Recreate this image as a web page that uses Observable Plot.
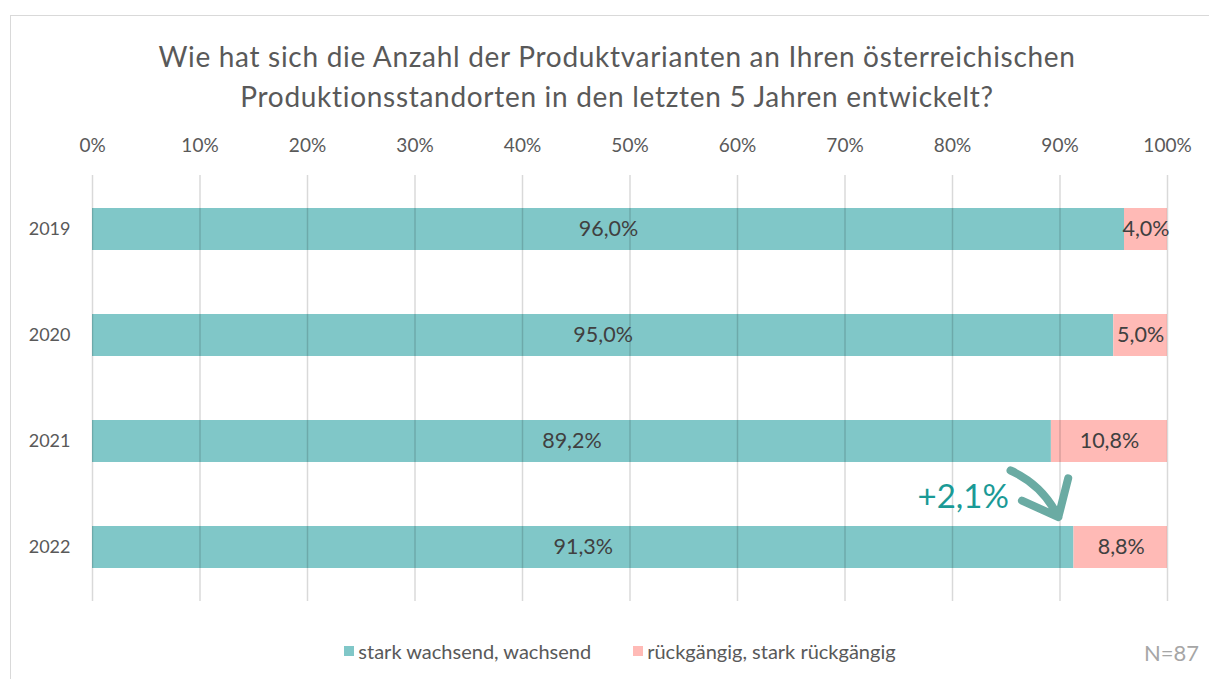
<!DOCTYPE html>
<html>
<head>
<meta charset="utf-8">
<script src="https://cdn.jsdelivr.net/npm/d3@7"></script>
<script src="https://cdn.jsdelivr.net/npm/@observablehq/plot@0.6"></script>
<style>
  html, body { margin: 0; padding: 0; background: #fff; }
  body { font-family: Lato, "Open Sans", sans-serif; }
  #wrap { position: relative; width: 1209px; height: 679px; overflow: hidden; }
  #frame { position: absolute; left: 10px; top: 15px; width: 1210px; height: 700px;
           border: 1.5px solid #d9d9d9; box-sizing: border-box; }
  #title { position: absolute; left: 0; top: 36px; width: 1234px; text-align: center;
           font-size: 28px; letter-spacing: 0.7px; line-height: 40px; color: #595959; }
  #chart { position: absolute; left: 0; top: 115px; }
  #legend { position: absolute; left: 0; top: 636px; width: 1240px; text-align: center;
            font-size: 20px; color: #595959; white-space: nowrap; }
  #legend span.item { display: inline-flex; align-items: center; margin: 0 21px; }
  #legend span.sw { display: inline-block; width: 10px; height: 10px; margin-right: 4px; }
  #n { position: absolute; left: 1144px; top: 639px; font-size: 22px; color: #a6a6a6; }
</style>
</head>
<body>
<div id="wrap">
  <div id="frame"></div>
  <div id="title">Wie hat sich die Anzahl der Produktvarianten an Ihren österreichischen<br>Produktionsstandorten in den letzten 5 Jahren entwickelt?</div>
  <div id="chart"></div>
  <div id="legend"></div>
  <div id="n">N=87</div>
</div>
<script>
const years = ["2019", "2020", "2021", "2022"];
const growing = [96.0, 95.0, 89.2, 91.3];
const shrinking = [4.0, 5.0, 10.8, 8.8];
const seriesNames = ["stark wachsend, wachsend", "rückgängig, stark rückgängig"];
const seriesColors = ["#80c7c8", "#ffbab6"];
const xTicks = [0, 10, 20, 30, 40, 50, 60, 70, 80, 90, 100];
const annotationText = "+2,1%";
const annotationFrom = {year: "2021", value: 85.4};
const annotationTo = {year: "2022", value: 90.6};
const annotationLabelAt = {year: "2022", value: 81.0};

const fmt = v => v.toFixed(1).replace(".", ",") + "%";

const rows = [];
years.forEach((y, i) => {
  rows.push({year: y, series: seriesNames[0], value: growing[i], start: 0, label: fmt(growing[i])});
  rows.push({year: y, series: seriesNames[1], value: shrinking[i], start: growing[i], label: fmt(shrinking[i])});
});

const plot = Plot.plot({
  width: 1209,
  height: 496,
  marginTop: 60,
  marginBottom: 10,
  marginLeft: 92,
  marginRight: 42,
  style: {fontFamily: "Lato, 'Open Sans', sans-serif", background: "transparent"},
  x: {domain: [0, 100], axis: null},
  y: {domain: years, paddingInner: 0.6, paddingOuter: 0.3, axis: null},
  color: {domain: seriesNames, range: seriesColors},
  marks: [
    Plot.barX(rows, {y: "year", x1: "start", x2: d => Math.min(100, d.start + d.value), fill: "series"}),
    Plot.ruleX(xTicks, {stroke: "#000", strokeOpacity: 0.15, strokeWidth: 1.5}),
    Plot.axisX(xTicks, {anchor: "top", tickSize: 0, tickPadding: 24, tickFormat: d => d + "%", fontSize: 19, fill: "#595959", label: null}),
    Plot.axisY(years, {anchor: "left", tickSize: 0, tickPadding: 22, fontSize: 18, fill: "#595959", label: null}),
    Plot.text(rows, {y: "year", x: d => d.start + d.value / 2, text: "label", fontSize: 21.5, fill: "#404040"}),
    Plot.arrow([0], {x1: () => annotationFrom.value, y1: () => annotationFrom.year, x2: () => annotationTo.value, y2: () => annotationTo.year,
      dy: 29, bend: 38, insetStart: 0, insetEnd: 60, stroke: "#6aaba3", strokeWidth: 8, headLength: 16, headAngle: 80}),
    Plot.text([0], {x: () => annotationLabelAt.value, y: () => annotationLabelAt.year, dy: -50, text: () => annotationText, fontSize: 33, fill: "#1a9a96"})
  ]
});
document.getElementById("chart").appendChild(plot);

const legend = document.getElementById("legend");
seriesNames.forEach((name, i) => {
  const item = document.createElement("span");
  item.className = "item";
  const sw = document.createElement("span");
  sw.className = "sw";
  sw.style.background = seriesColors[i];
  item.appendChild(sw);
  item.appendChild(document.createTextNode(name));
  legend.appendChild(item);
});
</script>
</body>
</html>
